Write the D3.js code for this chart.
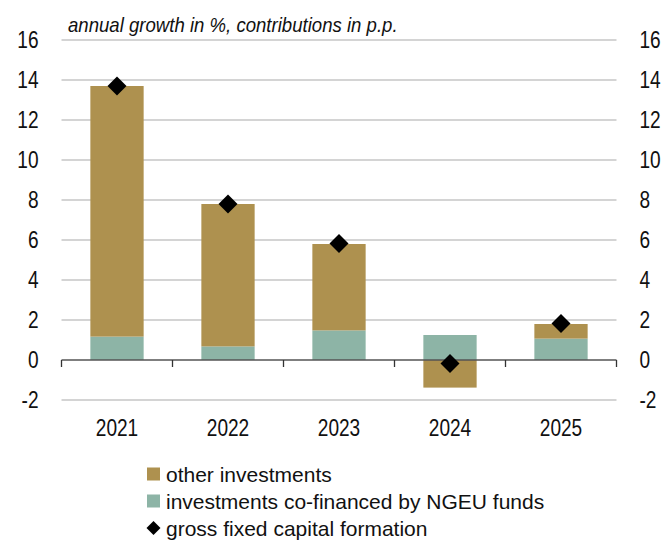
<!DOCTYPE html>
<html>
<head>
<meta charset="utf-8">
<script src="https://cdn.jsdelivr.net/npm/d3@7"></script>
<style>
  body { margin: 0; background: #fff; }
  svg { display: block; font-family: "Liberation Sans", Arial, sans-serif; }
</style>
</head>
<body>
<div id="chart"></div>
<script>
// data
const years = ['2021', '2022', '2023', '2024', '2025'];
const ngeu = [1.17, 0.68, 1.48, 1.25, 1.07];
const other = [12.53, 7.12, 4.32, -1.38, 0.73];
const gfcf = [13.7, 7.8, 5.83, -0.17, 1.83];
const yTicks = [-2, 0, 2, 4, 6, 8, 10, 12, 14, 16];

const colors = { ngeu: '#8db4a6', other: '#ae914f' };

const width = 663, height = 541;
const margin = { left: 61.5, right: 46.5, top: 40, bottom: 141 };

const svg = d3.select('#chart').append('svg')
  .attr('width', width)
  .attr('height', height);

// no narrow font installed, so squeeze the labels horizontally
const narrow = 0.83;
const place = (px, py) => `translate(${px},${py}) scale(${narrow},1)`;

const x = d3.scaleBand()
  .domain(years)
  .range([margin.left, width - margin.right])
  .paddingInner(0.52)
  .paddingOuter(0.26);

const y = d3.scaleLinear()
  .domain([-2, 16])
  .range([height - margin.bottom, margin.top]);

// gridlines
svg.append('g')
  .selectAll('line')
  .data(yTicks.filter(d => d !== 0))
  .join('line')
  .attr('x1', margin.left)
  .attr('x2', width - margin.right)
  .attr('y1', d => y(d))
  .attr('y2', d => y(d))
  .attr('stroke', '#c6c6c6')
  .attr('stroke-width', 1.3);

// stacked bars
const rows = years.map((yr, i) => ({ year: yr, ngeu: ngeu[i], other: other[i] }));
const stack = d3.stack().keys(['ngeu', 'other']).offset(d3.stackOffsetDiverging);
const layers = stack(rows);

svg.append('g')
  .selectAll('g')
  .data(layers)
  .join('g')
  .attr('fill', d => colors[d.key])
  .selectAll('rect')
  .data(d => d)
  .join('rect')
  .attr('x', d => x(d.data.year))
  .attr('width', x.bandwidth())
  .attr('y', d => y(Math.max(d[0], d[1])))
  .attr('height', d => Math.abs(y(d[0]) - y(d[1])));

// zero axis line with ticks between categories
const bandStep = x.step();
const tickXs = years.map(yr => x(yr) - (bandStep - x.bandwidth()) / 2);
tickXs.push(width - margin.right);

const axisG = svg.append('g');
axisG.append('line')
  .attr('x1', margin.left)
  .attr('x2', width - margin.right)
  .attr('y1', y(0))
  .attr('y2', y(0))
  .attr('stroke', '#555')
  .attr('stroke-width', 1.3);
axisG.selectAll('.tk')
  .data(tickXs)
  .join('line')
  .attr('class', 'tk')
  .attr('x1', d => d)
  .attr('x2', d => d)
  .attr('y1', y(0))
  .attr('y2', y(0) + 7)
  .attr('stroke', '#333')
  .attr('stroke-width', 1.3);

// diamonds for gross fixed capital formation
const diamond = r => `M0,${-r}L${r},0L0,${r}L${-r},0Z`;
svg.append('g')
  .selectAll('path')
  .data(gfcf)
  .join('path')
  .attr('d', diamond(9.5))
  .attr('transform', (d, i) => `translate(${x(years[i]) + x.bandwidth() / 2},${y(d)})`)
  .attr('fill', '#000');

// y labels, both sides
const labelG = svg.append('g').attr('font-size', 23).attr('fill', '#111');
labelG.selectAll('.yl')
  .data(yTicks)
  .join('text')
  .attr('class', 'yl')
  .attr('transform', d => place(38.5, y(d)))
  .attr('dy', '0.36em')
  .attr('text-anchor', 'end')
  .text(d => d);
labelG.selectAll('.yr')
  .data(yTicks)
  .join('text')
  .attr('class', 'yr')
  .attr('transform', d => place(639.5, y(d)))
  .attr('dy', '0.36em')
  .attr('text-anchor', 'start')
  .text(d => d);

// category labels
labelG.selectAll('.xl')
  .data(years)
  .join('text')
  .attr('class', 'xl')
  .attr('transform', d => place(x(d) + x.bandwidth() / 2, 428))
  .attr('dy', '0.36em')
  .attr('text-anchor', 'middle')
  .text(d => d);

// subtitle
svg.append('text')
  .attr('transform', 'translate(68,32) scale(0.93,1)')
  .attr('font-size', 20)
  .attr('font-style', 'italic')
  .attr('fill', '#111')
  .text('annual growth in %, contributions in p.p.');

// legend
const legendItems = [
  { label: 'other investments', type: 'rect', color: colors.other },
  { label: 'investments co-financed by NGEU funds', type: 'rect', color: colors.ngeu },
  { label: 'gross fixed capital formation', type: 'diamond', color: '#000' }
];
const legend = svg.append('g').attr('transform', 'translate(147,474)');
const li = legend.selectAll('g')
  .data(legendItems)
  .join('g')
  .attr('transform', (d, i) => `translate(0,${i * 27})`);
li.filter(d => d.type === 'rect').append('rect')
  .attr('x', 0).attr('y', -6.5).attr('width', 13).attr('height', 13)
  .attr('fill', d => d.color);
li.filter(d => d.type === 'diamond').append('path')
  .attr('d', diamond(7))
  .attr('transform', 'translate(6.5,0)')
  .attr('fill', d => d.color);
li.append('text')
  .attr('x', 19)
  .attr('dy', '0.36em')
  .attr('font-size', 21)
  .attr('fill', '#111')
  .text(d => d.label);
</script>
</body>
</html>
